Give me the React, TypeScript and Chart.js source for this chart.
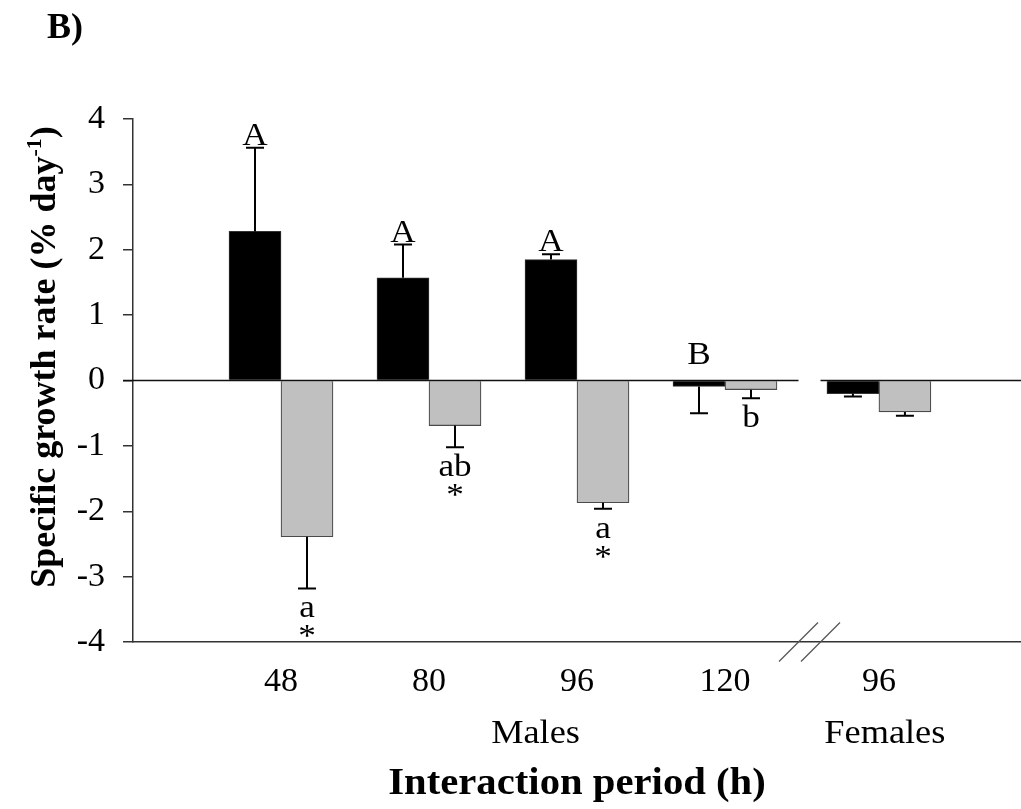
import React, { useEffect, useRef } from 'react';
import { Chart, registerables } from 'chart.js';

Chart.register(...registerables);

// ---- data ----
const xLabels = ['48', '80', '96', '120', '96'];
const groupLabels = ['Males', 'Females'];
const blackValues = [2.28, 1.57, 1.85, -0.09, -0.2];
const blackErrors = [1.28, 0.51, 0.08, 0.41, 0.045];
const grayValues = [-2.39, -0.69, -1.87, -0.14, -0.48];
const grayErrors = [0.79, 0.33, 0.09, 0.13, 0.06];
const blackLetters = ['A', 'A', 'A', 'B', ''];
const grayLetters = ['a', 'ab', 'a', 'b', ''];
const grayStars = ['*', '*', '*', '', ''];
const yTicks = [-4, -3, -2, -1, 0, 1, 2, 3, 4];

// ---- layout constants ----
const W = 1021;
const H = 809;
const SERIF = '"Liberation Serif", "Times New Roman", serif';
const FEMALE_SHIFT = 0.04;
const BREAK_AT = 3.571;
const GROUP_CENTERS = [1.72, 4.08];

const xPos = (i: number) => i + (i >= 4 ? FEMALE_SHIFT : 0);

function drawText(
  ctx: CanvasRenderingContext2D,
  text: string,
  x: number,
  y: number,
  font: string,
  align: CanvasTextAlign = 'center',
  sx = 1.1
) {
  ctx.save();
  ctx.translate(x, y);
  ctx.scale(sx, 1);
  ctx.font = font;
  ctx.fillStyle = '#000';
  ctx.textAlign = align;
  ctx.textBaseline = 'alphabetic';
  ctx.fillText(text, 0, 0);
  ctx.restore();
}

export default function App() {
  const ref = useRef<HTMLCanvasElement>(null);

  useEffect(() => {
    const canvas = ref.current!;

    const annot = {
      id: 'annot',
      afterDraw(chart: any) {
        const ctx: CanvasRenderingContext2D = chart.ctx;
        const xs = chart.scales.x;
        const ys = chart.scales.y;
        const ca = chart.chartArea;
        const zero = ys.getPixelForValue(0);
        const breakPx = xs.getPixelForValue(BREAK_AT);

        ctx.save();
        // zero line with break gap
        ctx.strokeStyle = '#111';
        ctx.lineWidth = 1.5;
        ctx.beginPath();
        ctx.moveTo(ca.left - 10, zero);
        ctx.lineTo(breakPx - 11, zero);
        ctx.moveTo(breakPx + 11, zero);
        ctx.lineTo(ca.right, zero);
        ctx.stroke();

        // error bars + letters
        const series: [number[], number[]][] = [
          [blackValues, blackErrors],
          [grayValues, grayErrors],
        ];
        series.forEach(([vals, errs], di) => {
          const meta = chart.getDatasetMeta(di);
          meta.data.forEach((bar: any, i: number) => {
            const v = vals[i];
            const e = errs[i];
            const end = ys.getPixelForValue(v + Math.sign(v) * e);
            ctx.strokeStyle = '#000';
            ctx.lineWidth = 2;
            ctx.beginPath();
            ctx.moveTo(bar.x, bar.y);
            ctx.lineTo(bar.x, end);
            ctx.moveTo(bar.x - 9, end);
            ctx.lineTo(bar.x + 9, end);
            ctx.stroke();

            const font = `32px ${SERIF}`;
            if (di === 0 && blackLetters[i]) {
              const base = v >= 0 ? end - 3 : zero - 17;
              drawText(ctx, blackLetters[i], bar.x, base, font);
            }
            if (di === 1 && grayLetters[i]) {
              drawText(ctx, grayLetters[i], bar.x, end + 29, font);
              if (grayStars[i]) drawText(ctx, grayStars[i], bar.x, end + 58, font);
            }
          });
        });

        // axis break slashes
        ctx.strokeStyle = '#555';
        ctx.lineWidth = 1.2;
        [-11, 11].forEach((dx) => {
          const cx = breakPx + dx;
          ctx.beginPath();
          ctx.moveTo(cx - 19.5, ca.bottom + 19.5);
          ctx.lineTo(cx + 19.5, ca.bottom - 19.5);
          ctx.stroke();
        });

        // group labels
        groupLabels.forEach((g, gi) => {
          drawText(ctx, g, xs.getPixelForValue(GROUP_CENTERS[gi]), 743, `33px ${SERIF}`);
        });

        // x title
        drawText(
          ctx,
          'Interaction period (h)',
          xs.getPixelForValue(2),
          794,
          `bold 37px ${SERIF}`
        );

        // panel label
        drawText(ctx, 'B)', 47, 38, `bold 36px ${SERIF}`, 'left', 1.0);

        // y title (rotated, with superscript)
        ctx.save();
        ctx.translate(55, 357);
        ctx.rotate(-Math.PI / 2);
        ctx.fillStyle = '#000';
        ctx.textBaseline = 'alphabetic';
        ctx.textAlign = 'left';
        const mainFont = `bold 36px ${SERIF}`;
        const supFont = `bold 22px ${SERIF}`;
        const p1 = 'Specific growth rate (% day';
        const p2 = '-1';
        const p3 = ')';
        ctx.font = mainFont;
        const w1 = ctx.measureText(p1).width;
        const w3 = ctx.measureText(p3).width;
        ctx.font = supFont;
        const w2 = ctx.measureText(p2).width;
        let sx = -(w1 + w2 + w3) / 2;
        ctx.font = mainFont;
        ctx.fillText(p1, sx, 0);
        sx += w1;
        ctx.font = supFont;
        ctx.fillText(p2, sx, -14);
        sx += w2;
        ctx.font = mainFont;
        ctx.fillText(p3, sx, 0);
        ctx.restore();

        ctx.restore();
      },
    };

    const chart = new Chart(canvas, {
      type: 'bar',
      data: {
        datasets: [
          {
            label: 'black',
            data: blackValues.map((v, i) => ({ x: xPos(i), y: v })),
            backgroundColor: '#000000',
            borderColor: '#333333',
            borderWidth: 1,
            barThickness: 52,
          },
          {
            label: 'gray',
            data: grayValues.map((v, i) => ({ x: xPos(i), y: v })),
            backgroundColor: '#c0c0c0',
            borderColor: '#4a4a4a',
            borderWidth: 1.2,
            barThickness: 52,
          },
        ],
      },
      options: {
        responsive: false,
        animation: false,
        devicePixelRatio: 1,
        layout: { padding: { top: 119, right: 0, bottom: 0, left: 0 } },
        plugins: {
          legend: { display: false },
          tooltip: { enabled: false },
        },
        scales: {
          x: {
            type: 'linear',
            min: -1,
            max: 5,
            offset: false,
            afterBuildTicks: (scale: any) => {
              scale.ticks = xLabels.map((_, i) => ({ value: xPos(i) }));
            },
            afterFit: (scale: any) => {
              scale.height = H - 642;
            },
            ticks: {
              autoSkip: false,
              maxRotation: 0,
              padding: 20,
              color: '#000',
              font: { family: SERIF, size: 34 },
              callback: (_v: any, i: number) => xLabels[i],
            },
            grid: { display: false, drawTicks: false, tickLength: 0, offset: false },
            border: { display: true, color: '#333', width: 1.5 },
          },
          y: {
            min: -4,
            max: 4,
            afterBuildTicks: (scale: any) => {
              scale.ticks = yTicks.map((v) => ({ value: v }));
            },
            afterFit: (scale: any) => {
              scale.width = 133;
            },
            ticks: {
              padding: 18,
              color: '#000',
              font: { family: SERIF, size: 34 },
              callback: (v: any) => String(v),
            },
            grid: {
              drawOnChartArea: false,
              drawTicks: true,
              tickLength: 10,
              color: '#333',
              lineWidth: 1.5,
            },
            border: { display: true, color: '#333', width: 1.5 },
          },
        },
      },
      plugins: [annot],
    } as any);

    return () => chart.destroy();
  }, []);

  return (
    <div style={{ position: 'fixed', left: 0, top: 0, width: W, height: H, background: '#fff' }}>
      <canvas ref={ref} width={W} height={H} style={{ display: 'block' }} />
    </div>
  );
}
